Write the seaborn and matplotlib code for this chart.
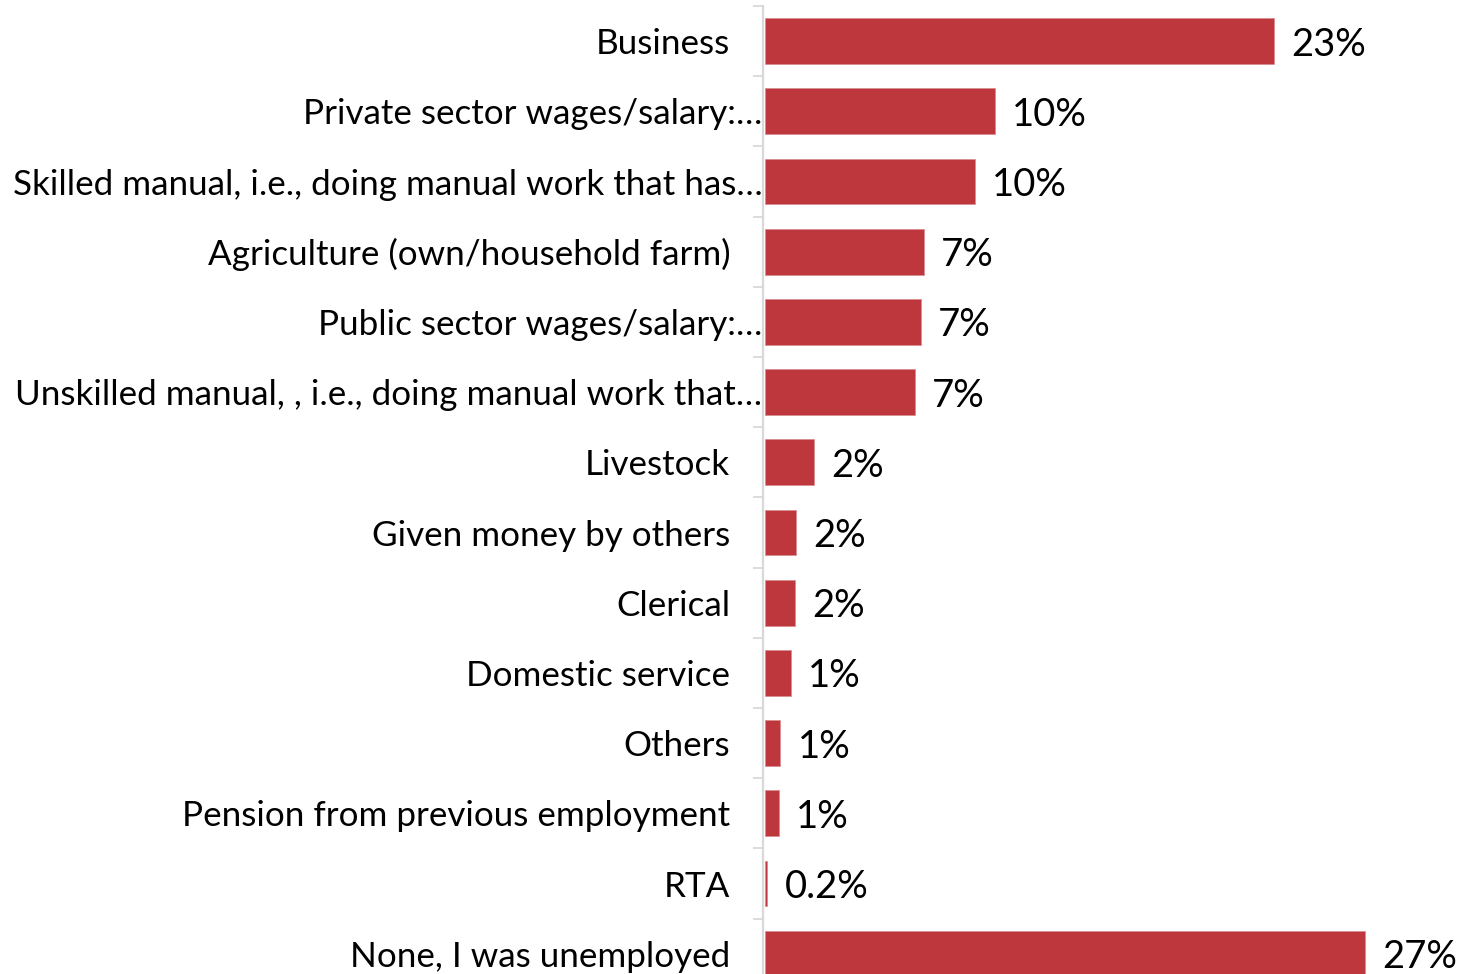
import matplotlib
matplotlib.use("Agg")
import matplotlib.pyplot as plt
import seaborn as sns
import pandas as pd
import numpy as np

categories = [
    "Business",
    "Private sector wages/salary:\u2026",
    "Skilled manual, i.e., doing manual work that has\u2026",
    "Agriculture (own/household farm)",
    "Public sector wages/salary:\u2026",
    "Unskilled manual, , i.e., doing manual work that\u2026",
    "Livestock",
    "Given money by others",
    "Clerical",
    "Domestic service",
    "Others",
    "Pension from previous employment",
    "RTA",
    "None, I was unemployed",
]
values = [22.9, 10.35, 9.45, 7.15, 7.0, 6.75, 2.2, 1.4, 1.35, 1.16, 0.69, 0.62, 0.1, 27.0]
value_labels = ["23%", "10%", "10%", "7%", "7%", "7%", "2%", "2%", "2%", "1%", "1%", "1%", "0.2%", "27%"]
truncated = [False, True, True, False, True, True, False, False, False, False, False, False, False, False]

sns.set_style("white")
plt.rcParams["font.family"] = ["Lato", "DejaVu Sans"]

df = pd.DataFrame({"category": categories, "value": values})

W, H = 1460, 974
fig = plt.figure(figsize=(W / 100, H / 100), dpi=100)
step = 70.2
top_px = 6
n = len(categories)
ax_h_px = n * step
left_px = 763
ax_w_px = 30.09 * 22.22
ax = fig.add_axes([left_px / W, (H - top_px - ax_h_px) / H, ax_w_px / W, ax_h_px / H])

bar_color = "#BD373D"
sns.barplot(data=df, x="value", y="category", color=bar_color, width=0.65,
            saturation=1, ax=ax, orient="h", edgecolor="#D88A8D", linewidth=0.5)

ax.set_xlim(-0.09, 30)
ax.set_ylim(n - 0.5, -0.5)
ax.set_xlabel("")
ax.set_ylabel("")
ax.set_xticks([])

for s in ["top", "right", "bottom"]:
    ax.spines[s].set_visible(False)
ax.spines["left"].set_color("#D9D9D9")
ax.spines["left"].set_linewidth(1.6)

ax.set_yticks(np.arange(n + 1) - 0.5, minor=True)
ax.tick_params(axis="y", which="minor", length=7.5, width=1.3, color="#D9D9D9", left=True)
ax.tick_params(axis="y", which="major", length=0, labelsize=25.2, labelcolor="black")

for tick, tr in zip(ax.yaxis.get_major_ticks(), truncated):
    tick.set_pad(0.5 if tr else 23.5)

for i, (v, lab) in enumerate(zip(values, value_labels)):
    ax.annotate(lab, xy=(v, i), xytext=(12.5, -2.5), textcoords="offset points",
                va="center", ha="left", fontsize=27.5, color="black")

fig.savefig("out.png", dpi=100)
